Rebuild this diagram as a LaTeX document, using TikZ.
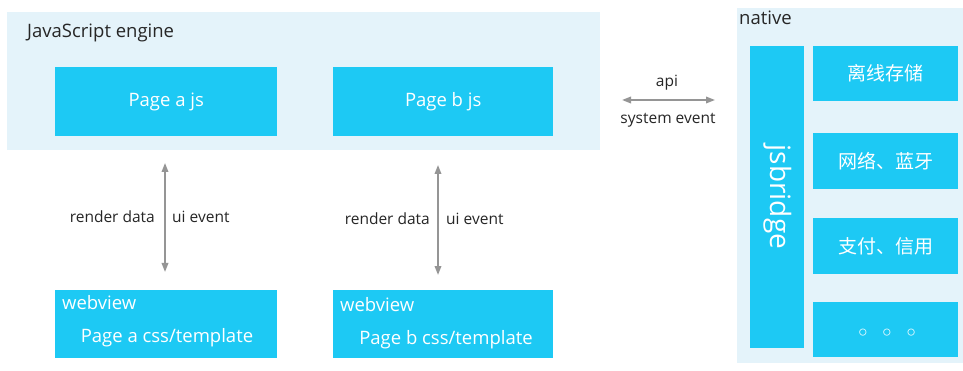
\documentclass[tikz,border=0pt]{standalone}
\usepackage{fontspec}
\setmainfont{Open Sans}
\newfontfamily\cjk{Noto Sans CJK SC}
\newfontfamily\symfont{DejaVu Sans}
\usetikzlibrary{arrows.meta}
\definecolor{panel}{HTML}{E4F3FA}
\definecolor{cyanbox}{HTML}{1DC9F4}
\definecolor{arrowgray}{HTML}{959595}
\tikzset{
  x=1pt, y=-1pt,
  panelbg/.style={fill=panel, draw=none},
  blockbox/.style={fill=cyanbox, draw=none, anchor=north west, inner sep=0pt, text=white},
  lbl/.style={font=\fontsize{15.5}{17}\selectfont, text=black!85, inner sep=0pt},
  bigtxt/.style={font=\fontsize{18.5}{20}\selectfont},
  cjktxt/.style={font=\cjk\fontsize{19}{21}\selectfont},
  biarrow/.style={draw=arrowgray, line width=1.8pt, {Triangle[length=9pt,width=6.5pt]}-{Triangle[length=9pt,width=6.5pt]}},
}
\begin{document}
\begin{tikzpicture}
\useasboundingbox (0,0) rectangle (963,371);
\fill[white] (0,0) rectangle (963,371);

% JavaScript engine panel
\path[panelbg] (7,12) rectangle (600,150);
\node[lbl, anchor=west, bigtxt] (jstitle) at (27,33) {JavaScript engine};
\node[blockbox, minimum width=222pt, minimum height=69pt, bigtxt] (pagea) at (55,67) {Page a js};
\node[blockbox, minimum width=220pt, minimum height=69pt, bigtxt] (pageb) at (333,67) {Page b js};

% webviews
\node[blockbox, minimum width=222pt, minimum height=68pt] (weba) at (55,290) {};
\node[blockbox, minimum width=220pt, minimum height=68pt] (webb) at (333,290) {};
\node[anchor=west, inner sep=0pt, text=white, bigtxt] (webaT) at (62,303) {webview};
\node[anchor=west, inner sep=0pt, text=white, bigtxt] (webbT) at (340,305) {webview};
\node[inner sep=0pt, text=white, bigtxt] (webaP) at (167,338) {Page a css/template};
\node[inner sep=0pt, text=white, bigtxt] (webbP) at (446,340) {Page b css/template};

% vertical connectors
\coordinate (a1) at (165,163);
\coordinate (a2) at (165,272);
\coordinate (b1) at (438,165);
\coordinate (b2) at (438,275);
\draw[biarrow] (a1) -- (a2);
\draw[biarrow] (b1) -- (b2);
\node[lbl, anchor=east] (rda) at (155,217) {render data};
\node[lbl, anchor=west] (uia) at (172,217) {ui event};
\node[lbl, anchor=east] (rdb) at (430,219) {render data};
\node[lbl, anchor=west] (uib) at (446,219) {ui event};

% native panel
\path[panelbg] (737,8) rectangle (963,363);
\node[lbl, anchor=west, bigtxt] (nattitle) at (739,18) {native};
\node[blockbox, minimum width=54pt, minimum height=302pt] (bridge) at (750,46) {};
\node[text=white, rotate=-90, font=\fontsize{28}{30}\selectfont, inner sep=0pt] (bridgeT) at (778,197) {jsbridge};
\node[blockbox, minimum width=145pt, minimum height=55pt, cjktxt] (n1) at (813,46) {离线存储};
\node[blockbox, minimum width=145pt, minimum height=56pt, cjktxt] (n2) at (813,133) {网络、蓝牙};
\node[blockbox, minimum width=145pt, minimum height=56pt, cjktxt] (n3) at (813,218) {支付、信用};
\node[blockbox, minimum width=145pt, minimum height=55pt] (n4) at (813,302) {};
\node[inner sep=0pt, text=white, font=\symfont\fontsize{24}{26}\selectfont] (n4T) at (887,335) {◦\hspace{10pt}◦\hspace{10pt}◦};

% api / system event connector
\coordinate (h1) at (622,100);
\coordinate (h2) at (715,100);
\draw[biarrow] (h1) -- (h2);
\node[lbl] (apiT) at (667,83) {api};
\node[lbl] (sysT) at (668,120) {system event};
\end{tikzpicture}
\end{document}
